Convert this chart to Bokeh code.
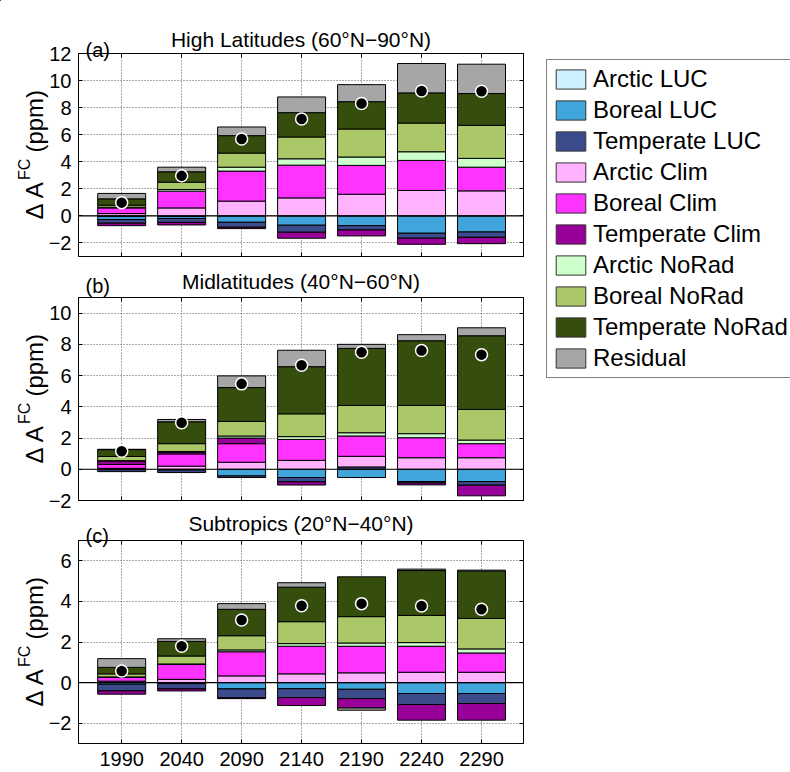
import numpy as np
from bokeh.plotting import figure
from bokeh.models import (Range1d, FixedTicker, LinearAxis, Label, Span,
                          Legend, LegendItem, ColumnDataSource, GridBox)
from bokeh.layouts import column
from bokeh.embed import file_html
from bokeh.resources import INLINE

FONT = "Liberation Sans"

years = [1990, 2040, 2090, 2140, 2190, 2240, 2290]

series_names = ["Arctic LUC", "Boreal LUC", "Temperate LUC",
                "Arctic Clim", "Boreal Clim", "Temperate Clim",
                "Arctic NoRad", "Boreal NoRad", "Temperate NoRad", "Residual"]
series_colors = ["#CCF2FF", "#3FA5DA", "#3C4B8C",
                 "#FFB3FF", "#FF33FF", "#990099",
                 "#CCFFCC", "#AAC867", "#354E0D", "#A6A6A6"]

panel_titles = ["High Latitudes (60\u00b0N\u221290\u00b0N)",
                "Midlatitudes (40\u00b0N\u221260\u00b0N)",
                "Subtropics (20\u00b0N\u221240\u00b0N)"]
panel_tags = ["(a)", "(b)", "(c)"]

# ---- (a) High Latitudes (60N-90N), ppm ----
hl_arctic_luc     = [-0.05, -0.04, 0.00, 0.00, 0.00, 0.00, 0.00]
hl_boreal_luc     = [-0.22, -0.15, -0.47, -0.69, -0.72, -1.28, -1.19]
hl_temperate_luc  = [-0.27, -0.29, -0.37, -0.52, -0.32, -0.37, -0.39]
hl_arctic_clim    = [0.17, 0.59, 1.09, 1.33, 1.60, 1.88, 1.85]
hl_boreal_clim    = [0.42, 1.24, 2.22, 2.42, 2.13, 2.22, 1.75]
hl_temperate_clim = [-0.18, -0.19, -0.10, -0.44, -0.44, -0.45, -0.47]
hl_arctic_norad   = [0.05, 0.12, 0.29, 0.47, 0.62, 0.64, 0.65]
hl_boreal_norad   = [0.15, 0.54, 1.04, 1.61, 2.07, 2.12, 2.44]
hl_temperate_norad = [0.47, 0.77, 1.29, 1.80, 2.02, 2.23, 2.35]
hl_residual       = [0.40, 0.34, 0.64, 1.16, 1.26, 2.17, 2.17]
hl_net            = [0.98, 2.96, 5.68, 7.16, 8.30, 9.23, 9.21]

# ---- (b) Midlatitudes (40N-60N), ppm ----
ml_arctic_luc     = [0.00, 0.00, 0.00, 0.00, 0.00, 0.00, 0.00]
ml_boreal_luc     = [-0.03, -0.05, -0.43, -0.53, -0.53, -0.79, -0.79]
ml_temperate_luc  = [-0.12, -0.16, -0.10, -0.28, 0.15, -0.09, -0.23]
ml_arctic_clim    = [0.06, 0.20, 0.45, 0.57, 0.68, 0.74, 0.74]
ml_boreal_clim    = [0.25, 0.78, 1.19, 1.34, 1.30, 1.28, 0.90]
ml_temperate_clim = [0.22, 0.12, 0.36, -0.20, 0.00, -0.12, -0.68]
ml_arctic_norad   = [0.02, 0.04, 0.13, 0.18, 0.21, 0.26, 0.23]
ml_boreal_norad   = [0.27, 0.50, 0.93, 1.46, 1.75, 1.81, 1.96]
ml_temperate_norad = [0.44, 1.40, 2.17, 3.02, 3.65, 4.14, 4.72]
ml_residual       = [0.02, 0.15, 0.75, 1.05, 0.26, 0.39, 0.51]
ml_net            = [1.15, 2.98, 5.47, 6.66, 7.49, 7.60, 7.34]

# ---- (c) Subtropics (20N-40N), ppm ----
st_arctic_luc     = [0.00, 0.00, 0.00, 0.00, 0.00, 0.00, 0.00]
st_boreal_luc     = [-0.08, -0.05, -0.31, -0.30, -0.33, -0.54, -0.54]
st_temperate_luc  = [-0.33, -0.26, -0.44, -0.44, -0.46, -0.54, -0.49]
st_arctic_clim    = [0.07, 0.16, 0.33, 0.43, 0.48, 0.51, 0.51]
st_boreal_clim    = [0.19, 0.74, 1.19, 1.36, 1.31, 1.28, 0.95]
st_temperate_clim = [-0.16, -0.10, -0.04, -0.39, -0.46, -0.77, -0.82]
st_arctic_norad   = [0.02, 0.02, 0.09, 0.13, 0.16, 0.18, 0.20]
st_boreal_norad   = [0.15, 0.39, 0.70, 1.08, 1.30, 1.34, 1.50]
st_temperate_norad = [0.32, 0.72, 1.30, 1.70, 1.96, 2.21, 2.33]
st_residual       = [0.43, 0.13, 0.28, 0.22, -0.11, 0.07, 0.05]
st_net            = [0.57, 1.79, 3.08, 3.79, 3.89, 3.77, 3.61]

panel_a_series = [hl_arctic_luc, hl_boreal_luc, hl_temperate_luc, hl_arctic_clim,
                  hl_boreal_clim, hl_temperate_clim, hl_arctic_norad, hl_boreal_norad,
                  hl_temperate_norad, hl_residual]
panel_b_series = [ml_arctic_luc, ml_boreal_luc, ml_temperate_luc, ml_arctic_clim,
                  ml_boreal_clim, ml_temperate_clim, ml_arctic_norad, ml_boreal_norad,
                  ml_temperate_norad, ml_residual]
panel_c_series = [st_arctic_luc, st_boreal_luc, st_temperate_luc, st_arctic_clim,
                  st_boreal_clim, st_temperate_clim, st_arctic_norad, st_boreal_norad,
                  st_temperate_norad, st_residual]

W, H = 790, 772
FRAME_W = 445
FRAME_H = 203
LEFT = 78


def minus(v):
    return ("\u2212" + str(abs(v))) if v < 0 else str(v)


def hide_labels(ax):
    ax.major_label_text_font_size = "0px"
    ax.major_label_text_color = None
    ax.major_label_standoff = 0


def make_panel(series, net, yr, yticks, show_xlabels, border_top, border_bottom):
    p = figure(frame_width=FRAME_W, frame_height=FRAME_H,
               x_range=Range1d(1954, 2325), y_range=Range1d(*yr),
               output_backend="svg", toolbar_location=None,
               min_border_left=LEFT, min_border_right=1,
               min_border_top=border_top, min_border_bottom=border_bottom,
               outline_line_color="black", outline_line_width=1)
    p.background_fill_color = "white"
    p.border_fill_color = "white"

    p.xgrid.ticker = FixedTicker(ticks=years)
    p.ygrid.ticker = FixedTicker(ticks=yticks)
    for g in (p.xgrid, p.ygrid):
        g.grid_line_color = "#555555"
        g.grid_line_dash = "1 2"
        g.grid_line_width = 1

    # stacked bars: positive parts upward, negative parts downward
    pos = np.zeros(len(years))
    neg = np.zeros(len(years))
    for vals, color in zip(series, series_colors):
        v = np.array(vals, dtype=float)
        bottom = np.where(v >= 0, pos, neg)
        top = bottom + v
        pos = np.where(v >= 0, top, pos)
        neg = np.where(v < 0, top, neg)
        mask = v != 0
        src = ColumnDataSource(dict(x=np.array(years)[mask], b=bottom[mask], t=top[mask]))
        p.vbar(x="x", bottom="b", top="t", width=40, source=src,
               fill_color=color, line_color="black", line_width=1)

    p.add_layout(Span(location=0, dimension="width", line_color="black", line_width=1.2))

    p.scatter(x=years, y=net, size=12, marker="circle", fill_color="black",
              line_color="white", line_width=1.5)

    p.yaxis.ticker = FixedTicker(ticks=yticks)
    p.yaxis.major_label_overrides = {t: minus(t) for t in yticks}
    p.xaxis.ticker = FixedTicker(ticks=years)
    for ax in (p.xaxis[0], p.yaxis[0]):
        ax.major_tick_in = 4
        ax.major_tick_out = 0
        ax.minor_tick_line_color = None
        ax.axis_line_color = "black"
        ax.major_tick_line_color = "black"
        ax.major_label_text_font = FONT
        ax.major_label_text_font_size = "20px"
        ax.major_label_text_color = "black"
    p.yaxis.major_label_standoff = 7
    if show_xlabels:
        p.xaxis.major_label_standoff = 8
    else:
        hide_labels(p.xaxis[0])

    right = LinearAxis(ticker=FixedTicker(ticks=yticks))
    top_ax = LinearAxis(ticker=FixedTicker(ticks=years))
    for ax in (right, top_ax):
        ax.major_tick_in = 4
        ax.major_tick_out = 0
        ax.minor_tick_line_color = None
        hide_labels(ax)
        ax.axis_line_color = "black"
        ax.major_tick_line_color = "black"
    p.add_layout(right, "right")
    p.add_layout(top_ax, "above")
    return p


# panels: frames at y = 53..256, 297..500, 540..743 (page pixels)
fa = make_panel(panel_a_series, hl_net, (-3, 12), [-2, 0, 2, 4, 6, 8, 10, 12], False, 53, 2)
fb = make_panel(panel_b_series, ml_net, (-2, 11), [-2, 0, 2, 4, 6, 8, 10], False, 39, 12)
fc = make_panel(panel_c_series, st_net, (-3, 7), [-2, 0, 2, 4, 6], True, 28, 29)
panels = column(fa, fb, fc)

# transparent overlay (page pixel coordinates, y from top) for texts and legend
ov = figure(width=W, height=H, x_range=Range1d(0, W), y_range=Range1d(H, 0),
            output_backend="svg", toolbar_location=None, min_border=0,
            x_axis_location=None, y_axis_location=None, outline_line_color=None)
ov.grid.visible = False
ov.background_fill_color = None
ov.border_fill_color = None

frame_tops = [53, 297, 540]
title_base = [38.6, 280.7, 523.3]
tag_base = [49.2, 285.8, 535.8]
frame_cx = LEFT + FRAME_W / 2

for title, tag, ft, tb, gb in zip(panel_titles, panel_tags, frame_tops, title_base, tag_base):
    ov.add_layout(Label(x=frame_cx, y=tb, text=title, text_align="center",
                        text_baseline="alphabetic", text_font=FONT,
                        text_font_size="21px", text_color="black"))
    ov.add_layout(Label(x=85, y=gb, text=tag, text_align="left",
                        text_baseline="alphabetic", text_font=FONT,
                        text_font_size="20px", text_color="black"))
    # y-axis label  "Δ A^FC (ppm)", rotated
    start = ft + FRAME_H / 2 + 64.6
    ov.add_layout(Label(x=34, y=start, text="\u0394 A", angle=np.pi / 2,
                        text_align="left", text_baseline="alphabetic", text_font=FONT,
                        text_font_size="24px", text_color="black"))
    ov.add_layout(Label(x=24, y=start - 39.5, text="FC", angle=np.pi / 2,
                        text_align="left", text_baseline="alphabetic", text_font=FONT,
                        text_font_size="16px", text_color="black"))
    ov.add_layout(Label(x=34, y=start - 67.0, text="(ppm)", angle=np.pi / 2,
                        text_align="left", text_baseline="alphabetic", text_font=FONT,
                        text_font_size="24px", text_color="black"))

items = []
for name, color in zip(series_names, series_colors):
    r = ov.vbar(x=[-500], top=[-400], bottom=[-450], width=10,
                fill_color=color, line_color="#333333")
    items.append(LegendItem(label=name, renderers=[r]))
legend = Legend(items=items, location=(546, 394), orientation="vertical",
                border_line_color="black", border_line_width=1,
                background_fill_color="white", background_fill_alpha=1,
                padding=5, spacing=3, margin=0,
                glyph_width=37, glyph_height=24, label_height=24, label_standoff=4,
                label_text_font=FONT, label_text_font_size="24px",
                label_text_color="black")
ov.add_layout(legend)

layout = GridBox(children=[(panels, 0, 0), (ov, 0, 0)])
open("out.html", "w").write(file_html(layout, INLINE))
